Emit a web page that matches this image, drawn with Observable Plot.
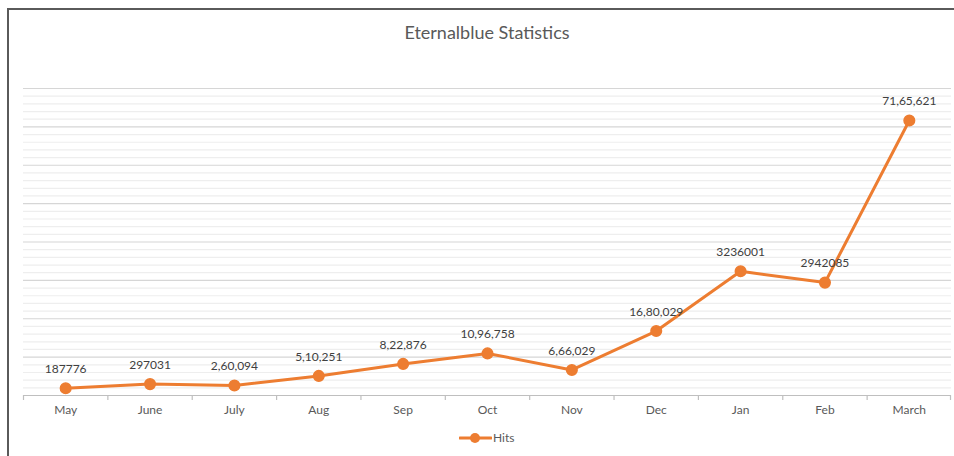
<!DOCTYPE html>
<html>
<head>
<meta charset="utf-8">
<script src="https://cdn.jsdelivr.net/npm/d3@7"></script>
<script src="https://cdn.jsdelivr.net/npm/@observablehq/plot@0.6"></script>
<style>
  html, body { margin: 0; padding: 0; background: #fff; }
  body { width: 954px; height: 456px; position: relative; overflow: hidden; font-family: Lato, "Open Sans", sans-serif; }
  #frame { position: absolute; left: 7px; top: 8px; width: 960px; height: 460px; border-left: 2px solid #5a5a5a; border-top: 2px solid #5a5a5a; box-sizing: border-box; }
  #title { position: absolute; top: 21px; left: 20px; width: 934px; text-align: center; font-size: 18px; color: #595959; letter-spacing: 0px; }
  #chart { position: absolute; left: 0; top: 50px; }
  #legend { position: absolute; top: 430px; left: 459px; display: flex; align-items: center; font-size: 12px; color: #595959; }
  #legend svg { display: block; }
</style>
</head>
<body>
<div id="frame"></div>
<div id="title">Eternalblue Statistics</div>
<div id="chart"></div>
<div id="legend"></div>
<script>
const months = ["May", "June", "July", "Aug", "Sep", "Oct", "Nov", "Dec", "Jan", "Feb", "March"];
const hits = [187776, 297031, 260094, 510251, 822876, 1096758, 666029, 1680029, 3236001, 2942085, 7165621];
const hitLabels = ["187776", "297031", "2,60,094", "5,10,251", "8,22,876", "10,96,758", "6,66,029", "16,80,029", "3236001", "2942085", "71,65,621"];
const yMax = 8000000;
const majorTicks = d3.range(0, yMax + 1, 1000000);
const minorTicks = d3.range(0, yMax + 1, 200000).filter(v => v % 1000000 !== 0);

const data = months.map((m, i) => ({month: m, hits: hits[i], label: hitLabels[i]}));

const W = 954, H = 406, mL = 23, mR = 3, mT = 38, mB = 61;
const bw = (W - mL - mR) / months.length;
const orange = "#ED7D31";

const plot = Plot.plot({
  width: W,
  height: H,
  marginLeft: mL,
  marginRight: mR,
  marginTop: mT,
  marginBottom: mB,
  style: {fontFamily: "Lato, 'Open Sans', sans-serif", background: "transparent"},
  x: {type: "band", domain: months, padding: 0, round: false, axis: null},
  y: {domain: [0, yMax], axis: null},
  marks: [
    Plot.ruleY(minorTicks, {stroke: "#eeeeee", strokeWidth: 1.2}),
    Plot.ruleY(majorTicks.filter(v => v > 0), {stroke: "#d6d6d6", strokeWidth: 1.2}),
    Plot.ruleY([0], {stroke: "#bfbfbf", strokeWidth: 1.2}),
    Plot.ruleX(months, {x: d => d, dx: -bw / 2, y1: 0, y2: 0, insetBottom: -5, stroke: "#bfbfbf", strokeWidth: 1.2}),
    Plot.ruleX(months.slice(-1), {x: d => d, dx: bw / 2 - 1, y1: 0, y2: 0, insetBottom: -5, stroke: "#bfbfbf", strokeWidth: 1.2}),
    Plot.axisX({tickSize: 0, tickPadding: 10, fontSize: 12, color: "#595959", label: null}),
    Plot.line(data, {x: "month", y: "hits", stroke: orange, strokeWidth: 3, strokeLinejoin: "round", strokeLinecap: "round"}),
    Plot.dot(data, {x: "month", y: "hits", r: 5.3, fill: orange, stroke: orange}),
    Plot.text(data, {x: "month", y: "hits", text: "label", dy: -19, fontSize: 12, fill: "#404040"})
  ]
});
document.getElementById("chart").appendChild(plot);

// legend
const lg = document.getElementById("legend");
lg.innerHTML = `<svg width="33" height="14"><line x1="1" y1="7" x2="32" y2="7" stroke="${orange}" stroke-width="3" stroke-linecap="round"/><circle cx="16" cy="7" r="5" fill="${orange}"/></svg><span style="margin-left:1px">Hits</span>`;
</script>
</body>
</html>
